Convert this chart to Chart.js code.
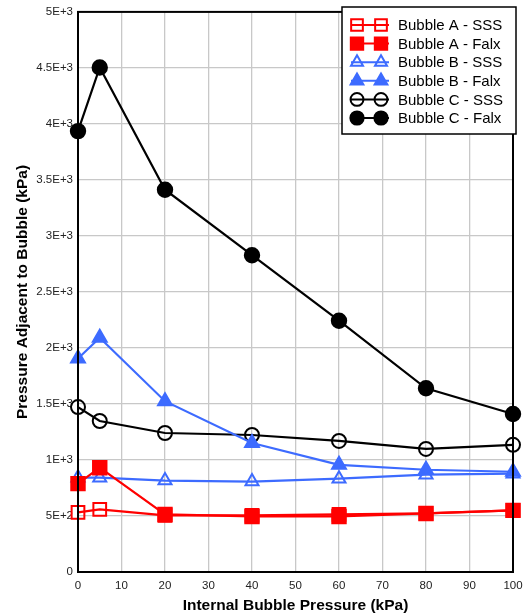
<!DOCTYPE html>
<html>
<head>
<meta charset="utf-8">
<script src="https://cdn.jsdelivr.net/npm/chart.js@4.4.0/dist/chart.umd.min.js"></script>
<style>
  html, body { margin: 0; padding: 0; background: #fff; }
  #wrap { width: 532px; height: 615px; }
</style>
</head>
<body>
<div id="wrap"><canvas id="grafico"></canvas></div>
<script>
const presionInterna = [0, 5, 20, 40, 60, 80, 100];
const burbujaA_SSS = [532, 559, 505, 505, 514, 523, 550];
const burbujaA_Falx = [789, 931, 514, 496, 496, 523, 550];
const burbujaB_SSS = [842, 842, 816, 807, 833, 869, 878];
const burbujaB_Falx = [1906, 2092, 1525, 1152, 957, 913, 895];
const burbujaC_SSS = [1472, 1348, 1241, 1223, 1170, 1099, 1135];
const burbujaC_Falx = [3936, 4504, 3413, 2828, 2243, 1640, 1410];
const etiquetas = ["Bubble A - SSS", "Bubble A - Falx", "Bubble B - SSS", "Bubble B - Falx", "Bubble C - SSS", "Bubble C - Falx"];

const rojo = "#ff0000";
const azul = "#3d6bff";
const negro = "#000000";
const vacio = "rgba(255,255,255,0)";

function serie(label, valores, color, forma, relleno, radio) {
  return {
    label: label,
    data: presionInterna.map((x, i) => ({ x: x, y: valores[i] })),
    borderColor: color,
    backgroundColor: relleno ? color : vacio,
    pointBorderColor: color,
    pointBackgroundColor: relleno ? color : vacio,
    pointStyle: forma,
    pointRadius: radio,
    pointBorderWidth: 2,
    borderWidth: 2.2,
    tension: 0,
    clip: false
  };
}

const datasets = [
  serie(etiquetas[0], burbujaA_SSS, rojo, "rect", false, 9),
  serie(etiquetas[1], burbujaA_Falx, rojo, "rect", true, 9.5),
  serie(etiquetas[2], burbujaB_SSS, azul, "triangle", false, 7.5),
  serie(etiquetas[3], burbujaB_Falx, azul, "triangle", true, 8),
  serie(etiquetas[4], burbujaC_SSS, negro, "circle", false, 7),
  serie(etiquetas[5], burbujaC_Falx, negro, "circle", true, 7.2)
];

function formatoE(v) {
  if (v === 0) return "0";
  const exp = Math.floor(Math.log10(v) + 1e-9);
  const mant = +(v / Math.pow(10, exp)).toFixed(2);
  return mant + "E+" + exp;
}

// marco negro alrededor del area y leyenda propia
const marcoYLeyenda = {
  id: "marcoYLeyenda",
  afterDatasetsDraw(chart) {
    const ctx = chart.ctx;
    const a = chart.chartArea;
    ctx.save();
    ctx.strokeStyle = "#000";
    ctx.lineWidth = 2;
    ctx.strokeRect(a.left, a.top, a.right - a.left, a.bottom - a.top);

    const bx = 342, by = 7, bw = 174, bh = 127;
    ctx.fillStyle = "#fff";
    ctx.fillRect(bx, by, bw, bh);
    ctx.lineWidth = 1.5;
    ctx.strokeRect(bx, by, bw, bh);

    ctx.font = "15px 'Liberation Sans', Arial, sans-serif";
    ctx.textBaseline = "middle";
    chart.data.datasets.forEach((ds, i) => {
      const y = by + 18 + i * 18.6;
      ctx.strokeStyle = ds.borderColor;
      ctx.lineWidth = 2;
      ctx.beginPath();
      ctx.moveTo(bx + 9, y);
      ctx.lineTo(bx + 47, y);
      ctx.stroke();
      [bx + 15, bx + 39].forEach(px => {
        ctx.fillStyle = ds.pointBackgroundColor;
        ctx.strokeStyle = ds.borderColor;
        ctx.lineWidth = 2;
        Chart.helpers.drawPoint(ctx, {
          pointStyle: ds.pointStyle,
          radius: ds.pointRadius * 0.92,
          borderWidth: 2
        }, px, y);
      });
      ctx.fillStyle = "#000";
      ctx.fillText(ds.label, bx + 56, y + 1);
    });
    ctx.restore();
  }
};

const ctx = document.getElementById("grafico").getContext("2d");
const grafico = new Chart(ctx, {
  type: "line",
  data: { datasets: datasets },
  plugins: [marcoYLeyenda],
  options: {
    responsive: true,
    maintainAspectRatio: false,
    animation: false,
    layout: { padding: { top: 8, right: 19, left: 0, bottom: 0 } },
    plugins: {
      legend: { display: false },
      tooltip: { enabled: false }
    },
    scales: {
      x: {
        type: "linear",
        min: 0,
        max: 100,
        ticks: {
          stepSize: 10,
          color: "#222",
          font: { family: "'Liberation Sans', Arial", size: 11.5 },
          padding: 7
        },
        grid: { color: "#c8c8c8", lineWidth: 1.3, drawTicks: false },
        border: { display: false },
        title: {
          display: true,
          text: "Internal Bubble Pressure (kPa)",
          color: "#000",
          font: { family: "'Liberation Sans', Arial", size: 15.5, weight: "bold" },
          padding: { top: 0, bottom: 0 }
        },
        afterFit(s) { s.height = 43; }
      },
      y: {
        min: 0,
        max: 5000,
        ticks: {
          stepSize: 500,
          color: "#222",
          font: { family: "'Liberation Sans', Arial", size: 11.5 },
          padding: 5,
          callback: v => formatoE(v)
        },
        grid: { color: "#c8c8c8", lineWidth: 1.3, drawTicks: false },
        border: { display: false },
        title: {
          display: true,
          text: "Pressure Adjacent to Bubble (kPa)",
          color: "#000",
          font: { family: "'Liberation Sans', Arial", size: 15.5, weight: "bold" },
          padding: { top: 13, bottom: 0 }
        },
        afterFit(s) { s.width = 78; }
      }
    }
  }
});
</script>
</body>
</html>
